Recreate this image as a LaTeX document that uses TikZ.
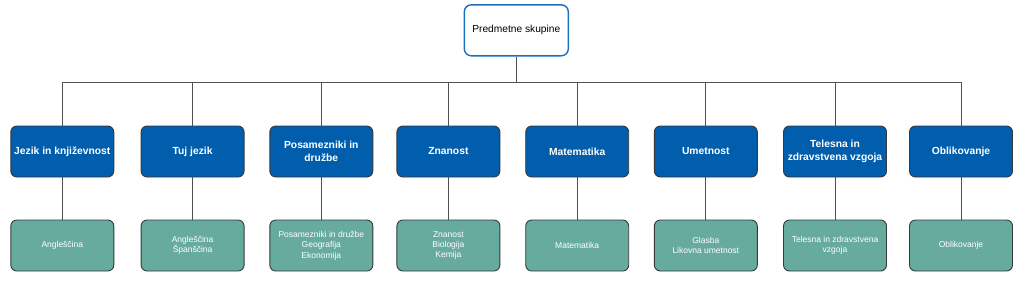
\documentclass[tikz,border=0pt]{standalone}
\usepackage{fontspec}
\setmainfont{Liberation Sans}
\definecolor{rootline}{HTML}{1F6EBD}
\definecolor{groupfill}{HTML}{005EAD}
\definecolor{subjfill}{HTML}{67AB9F}
\definecolor{boxline}{HTML}{36393D}
\definecolor{connline}{HTML}{505050}
\begin{document}
\begin{tikzpicture}[x=1pt,y=-1pt]
  \tikzstyle{rootbox}=[draw=rootline, line width=1.4pt, fill=white, rounded corners=7pt,
    minimum width=104pt, minimum height=51pt, align=center, font=\fontsize{10.2}{12}\selectfont]
  \tikzstyle{groupbox}=[draw=boxline, line width=0.9pt, fill=groupfill, rounded corners=6pt,
    minimum width=103pt, minimum height=51pt, align=center, text=white,
    font=\fontsize{10.3}{12.4}\selectfont\bfseries]
  \tikzstyle{subjbox}=[draw=boxline, line width=0.9pt, fill=subjfill, rounded corners=6pt,
    minimum width=103pt, minimum height=51pt, align=center, text=white,
    font=\fontsize{8.5}{10.3}\selectfont]
  \tikzstyle{conn}=[draw=connline, line width=0.8pt]

  \useasboundingbox (0,0) rectangle (1024,295);

  \node[rootbox] (root) at (516.3,30.3) {Predmetne skupine};

  \node[groupbox] (jezik) at (62.3,151.5) {Jezik in književnost};
  \node[groupbox] (tuj) at (192.6,151.5) {Tuj jezik};
  \node[groupbox] (druzba) at (321.3,151.5) {Posamezniki in\\družbe};
  \node[groupbox] (znanost) at (448.4,151.5) {Znanost};
  \node[groupbox] (mat) at (577.2,151.5) {Matematika};
  \node[groupbox] (umet) at (705.8,151.5) {Umetnost};
  \node[groupbox] (sport) at (835,151.5) {Telesna in\\zdravstvena vzgoja};
  \node[groupbox] (obl) at (961,151.5) {Oblikovanje};

  \node[subjbox] (jezikp) at (62.3,245.5) {Angleščina};
  \node[subjbox] (tujp) at (192.6,245.5) {Angleščina\\Španščina};
  \node[subjbox] (druzbap) at (321.3,245.5) {Posamezniki in družbe\\Geografija\\Ekonomija};
  \node[subjbox] (znanostp) at (448.4,245.5) {Znanost\\Biologija\\Kemija};
  \node[subjbox] (matp) at (577.2,245.5) {Matematika};
  \node[subjbox] (umetp) at (705.8,245.5) {Glasba\\Likovna umetnost};
  \node[subjbox] (sportp) at (835,245.5) {Telesna in zdravstvena\\vzgoja};
  \node[subjbox] (oblp) at (961,245.5) {Oblikovanje};

  \coordinate (bus) at (516.3,82);
  \draw[conn] (root.south) -- (bus);
  \draw[conn] (bus) -| (jezik.north);
  \draw[conn] (bus) -| (tuj.north);
  \draw[conn] (bus) -| (druzba.north);
  \draw[conn] (bus) -| (znanost.north);
  \draw[conn] (bus) -| (mat.north);
  \draw[conn] (bus) -| (umet.north);
  \draw[conn] (bus) -| (sport.north);
  \draw[conn] (bus) -| (obl.north);

  \draw[conn] (jezik) -- (jezikp);
  \draw[conn] (tuj) -- (tujp);
  \draw[conn] (druzba) -- (druzbap);
  \draw[conn] (znanost) -- (znanostp);
  \draw[conn] (mat) -- (matp);
  \draw[conn] (umet) -- (umetp);
  \draw[conn] (sport) -- (sportp);
  \draw[conn] (obl) -- (oblp);
\end{tikzpicture}
\end{document}
